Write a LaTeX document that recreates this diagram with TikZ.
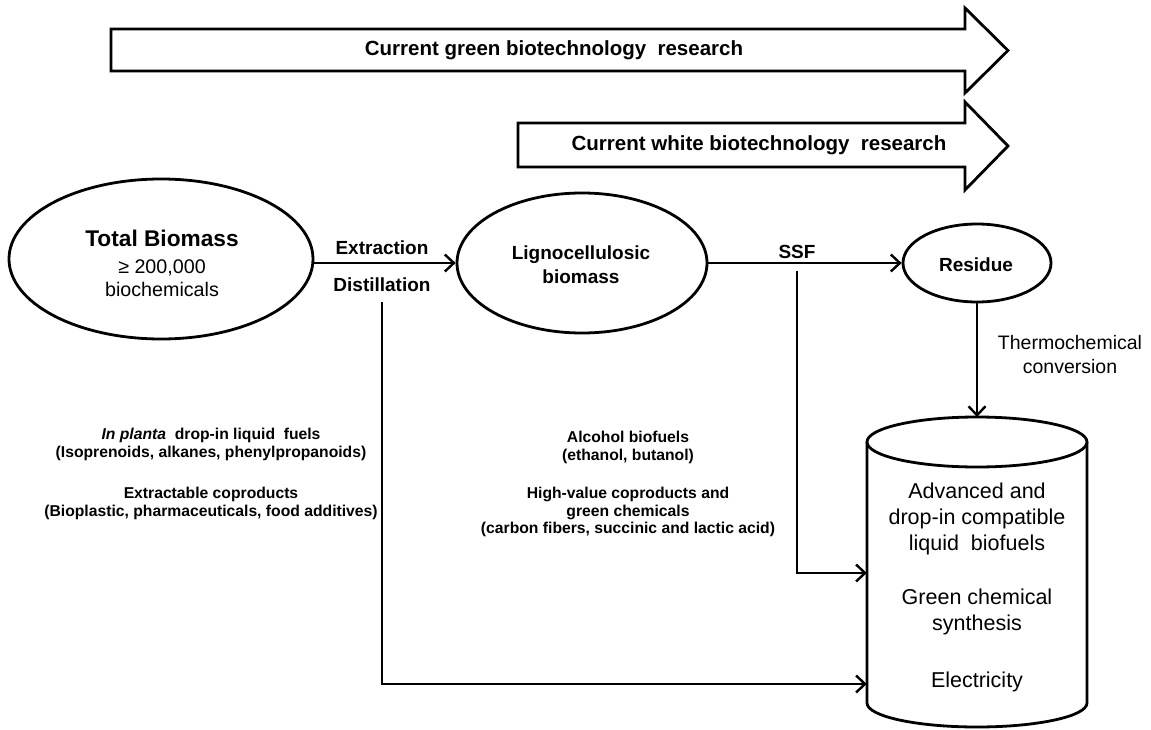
\documentclass[tikz,border=0pt]{standalone}
\usepackage{fontspec}
\setmainfont{Liberation Sans}
\usetikzlibrary{shapes.geometric,arrows.meta}
\newcommand\myfs[2]{\fontsize{#1}{#2}\selectfont}
\begin{document}
\begin{tikzpicture}[x=1pt,y=-1pt,
  shp/.style={draw=black, line width=2.8pt, fill=white, line join=miter},
  con/.style={line width=2.4pt},
  arr/.style={con, -{Straight Barb[length=9pt,width=17pt]}},
  txt/.style={inner sep=0pt, align=center},
  bigarrow/.style={txt, font=\bfseries\myfs{20.5}{24}},
  bold19/.style={txt, font=\bfseries\myfs{19}{24}},
  small/.style={txt, font=\bfseries\myfs{15.7}{17.5}},
  cyltxt/.style={txt, font=\myfs{21.5}{26}}]
\useasboundingbox (0,0) rectangle (1151,730);

% top research arrows
\draw[shp] (111,29) -- (965,29) -- (965,8) -- (1008,50.5) -- (965,93) -- (965,71) -- (111,71) -- cycle;
\node[bigarrow] (green) at (554,50) {Current green biotechnology\ \ research};
\draw[shp] (518,123) -- (965,123) -- (965,102) -- (1008,146) -- (965,190) -- (965,167) -- (518,167) -- cycle;
\node[bigarrow] (white) at (759,145) {Current white biotechnology\ \ research};

% ellipses
\node[shp, ellipse, minimum width=304pt, minimum height=160pt, inner sep=0pt] (tb) at (161,259) {};
\node[txt, font=\bfseries\myfs{22.7}{26}] (tbt) at (162,238) {Total Biomass};
\node[txt, font=\myfs{19.7}{23}] (tbs) at (162,278) {≥ 200,000\\biochemicals};

\node[shp, ellipse, minimum width=250pt, minimum height=140pt, inner sep=0pt] (lb) at (582,263) {};
\node[bold19] (lbt) at (581,265) {Lignocellulosic\\biomass};

\node[shp, ellipse, minimum width=148pt, minimum height=78pt, inner sep=0pt] (res) at (977,263) {};
\node[bold19] (rest) at (976,265) {Residue};

% cylinder
\draw[shp] (867,442) -- (867,703) arc[start angle=180, end angle=360, x radius=110pt, y radius=24pt] -- (1087,442);
\draw[shp] (977,442) ellipse [x radius=110pt, y radius=25pt];
\node[inner sep=0pt, minimum width=220pt, minimum height=261pt] (cyl) at (977,572) {};
\node[cyltxt] (c1) at (977,519) {Advanced and\\drop-in compatible\\liquid\ \ biofuels};
\node[cyltxt] (c2) at (977,612) {Green chemical\\synthesis};
\node[cyltxt] (c3) at (977,682) {Electricity};

% labels
\node[bold19] (ext) at (382,248) {Extraction};
\node[bold19] (dist) at (382,285) {Distillation};
\node[bold19] (ssf) at (797,252) {SSF};
\node[txt, font=\myfs{19.5}{24}] (thermo) at (1070,355) {Thermochemical\\conversion};

\node[small] (left) at (211,474) {\textit{In planta}\ \ drop-in liquid\ \ fuels\\(Isoprenoids,\ alkanes,\ phenylpropanoids)\\[24pt]Extractable\ coproducts\\(Bioplastic,\ pharmaceuticals,\ food additives)};
\node[small] (mid) at (628,484) {Alcohol\ biofuels\\(ethanol, butanol)\\[21pt]High-value\ coproducts\ and\\green chemicals\\(carbon fibers,\ succinic and lactic acid)};

% connectors
\coordinate (dtop) at (382,302);
\coordinate (dcorner) at (382,684);
\coordinate (stop) at (797,271);
\coordinate (scorner) at (797,573);
\draw[arr] (tb.east |- lb.west) -- (lb.west);
\draw[arr] (lb.east) -- (res.west);
\draw[arr] (res.south) -- (977,417);
\draw[arr] (dtop) -- (dcorner) -- (cyl.west |- dcorner);
\draw[arr] (stop) -- (scorner) -- (cyl.west |- scorner);
\end{tikzpicture}
\end{document}
